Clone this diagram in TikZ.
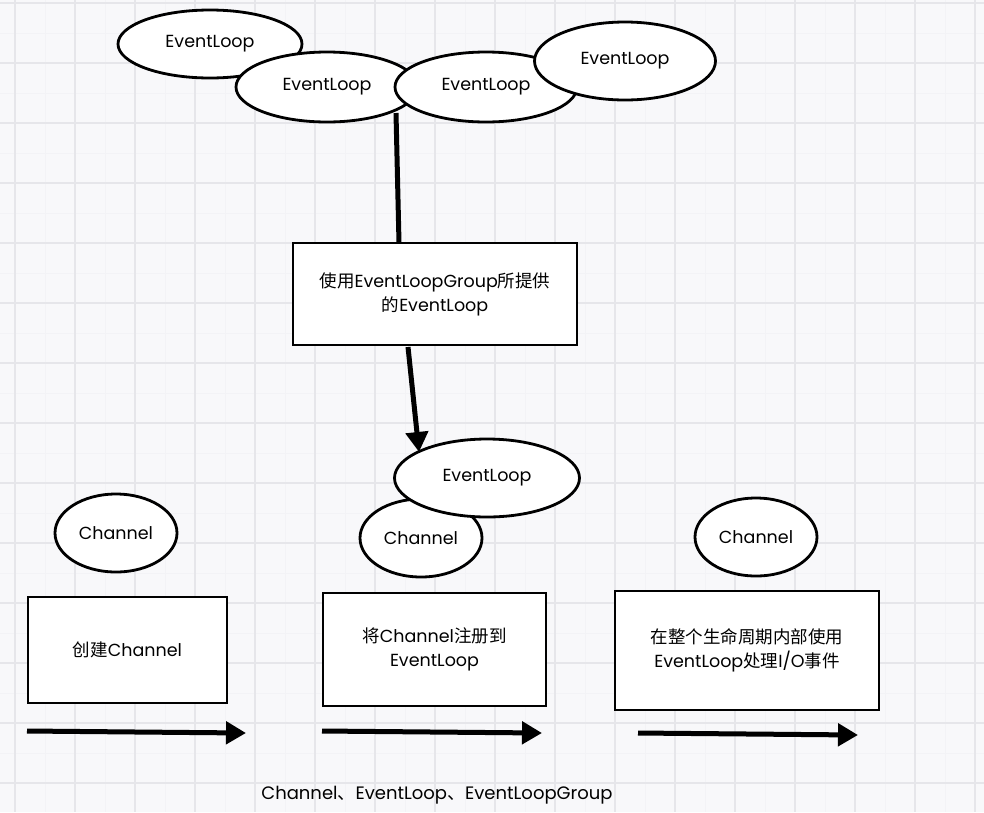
\documentclass[tikz,border=0pt]{standalone}
\usepackage{fontspec}
\setmainfont{Poppins}
\newfontfamily\cjk{Noto Sans CJK SC}
\usetikzlibrary{arrows.meta,shapes.geometric}
\definecolor{bgc}{RGB}{248,248,250}
\definecolor{gridmaj}{RGB}{230,230,234}
\definecolor{gridmin}{RGB}{243,243,246}
\begin{document}
\begin{tikzpicture}[x=1pt,y=-1pt,
  lbl/.style={font=\fontsize{18}{22}\selectfont},
  oval/.style={ellipse,draw=black,fill=white,line width=2.8pt,inner sep=0pt,font=\fontsize{17.5}{21}\selectfont},
  boxn/.style={rectangle,draw=black,fill=white,line width=2.8pt,inner sep=0pt,align=center,font=\fontsize{17.5}{24}\selectfont},
  thick arrow/.style={line width=5pt,-{Triangle[length=20pt,width=22pt]}},
  thick line/.style={line width=5pt}
]
\fill[bgc] (0,0) rectangle (984,812);
\useasboundingbox (0,0) rectangle (984,812);
% grid
\foreach \x in {45,105,...,975} \draw[gridmin,line width=0.8pt] (\x,0) -- (\x,812);
\foreach \y in {33,93,...,812} \draw[gridmin,line width=0.8pt] (0,\y) -- (984,\y);
\foreach \x in {15,75,...,975} \draw[gridmaj,line width=1.2pt] (\x,0) -- (\x,812);
\foreach \y in {3,63,...,812} \draw[gridmaj,line width=1.2pt] (0,\y) -- (984,\y);

% top ellipses
\node[oval,minimum width=184pt,minimum height=68pt] (e1) at (210,44) {EventLoop};
\node[oval,minimum width=182pt,minimum height=70pt] (e2) at (327,87) {EventLoop};
\node[oval,minimum width=182pt,minimum height=70pt] (e3) at (486,87) {EventLoop};
\node[oval,minimum width=181pt,minimum height=78pt] (e4) at (625,61) {EventLoop};

% box 1
\node[boxn,minimum width=284pt,minimum height=102pt] (b1) at (435,294) {{\cjk 使用}EventLoopGroup{\cjk 所提供}\\{\cjk 的}EventLoop};

\coordinate (s1) at (396,113);
\coordinate (t1) at (399,243);
\draw[thick line] (s1) -- (t1);

% lower middle: channel then eventloop
\node[oval,minimum width=122pt,minimum height=78pt] (c2) at (421,538) {Channel};
\node[oval,minimum width=185pt,minimum height=78pt] (e5) at (487,478) {EventLoop};

\coordinate (s2) at (408,347);
\coordinate (t2) at (419,452);
\draw[thick arrow] (s2) -- (t2);

\node[oval,minimum width=122pt,minimum height=78pt] (c1) at (116,533) {Channel};
\node[oval,minimum width=122pt,minimum height=78pt] (c3) at (756,537) {Channel};

% boxes
\node[boxn,minimum width=199pt,minimum height=106pt] (b2) at (127.5,650) {{\cjk 创建}Channel};
\node[boxn,minimum width=223pt,minimum height=113pt] (b3) at (434.5,649.5) {{\cjk 将}Channel{\cjk 注册到}\\EventLoop};
\node[boxn,minimum width=264pt,minimum height=119pt] (b4) at (747,650.5) {{\cjk 在整个生命周期内部使用}\\EventLoop{\cjk 处理}I/O{\cjk 事件}};

% bottom arrows
\coordinate (a1s) at (27,731);
\coordinate (a1e) at (246,733);
\coordinate (a2s) at (322,731);
\coordinate (a2e) at (542,733);
\coordinate (a3s) at (638,733);
\coordinate (a3e) at (858,735);
\draw[thick arrow] (a1s) -- (a1e);
\draw[thick arrow] (a2s) -- (a2e);
\draw[thick arrow] (a3s) -- (a3e);

\node[lbl] (cap) at (437,795) {Channel{\cjk 、}EventLoop{\cjk 、}EventLoopGroup};
\end{tikzpicture}
\end{document}
